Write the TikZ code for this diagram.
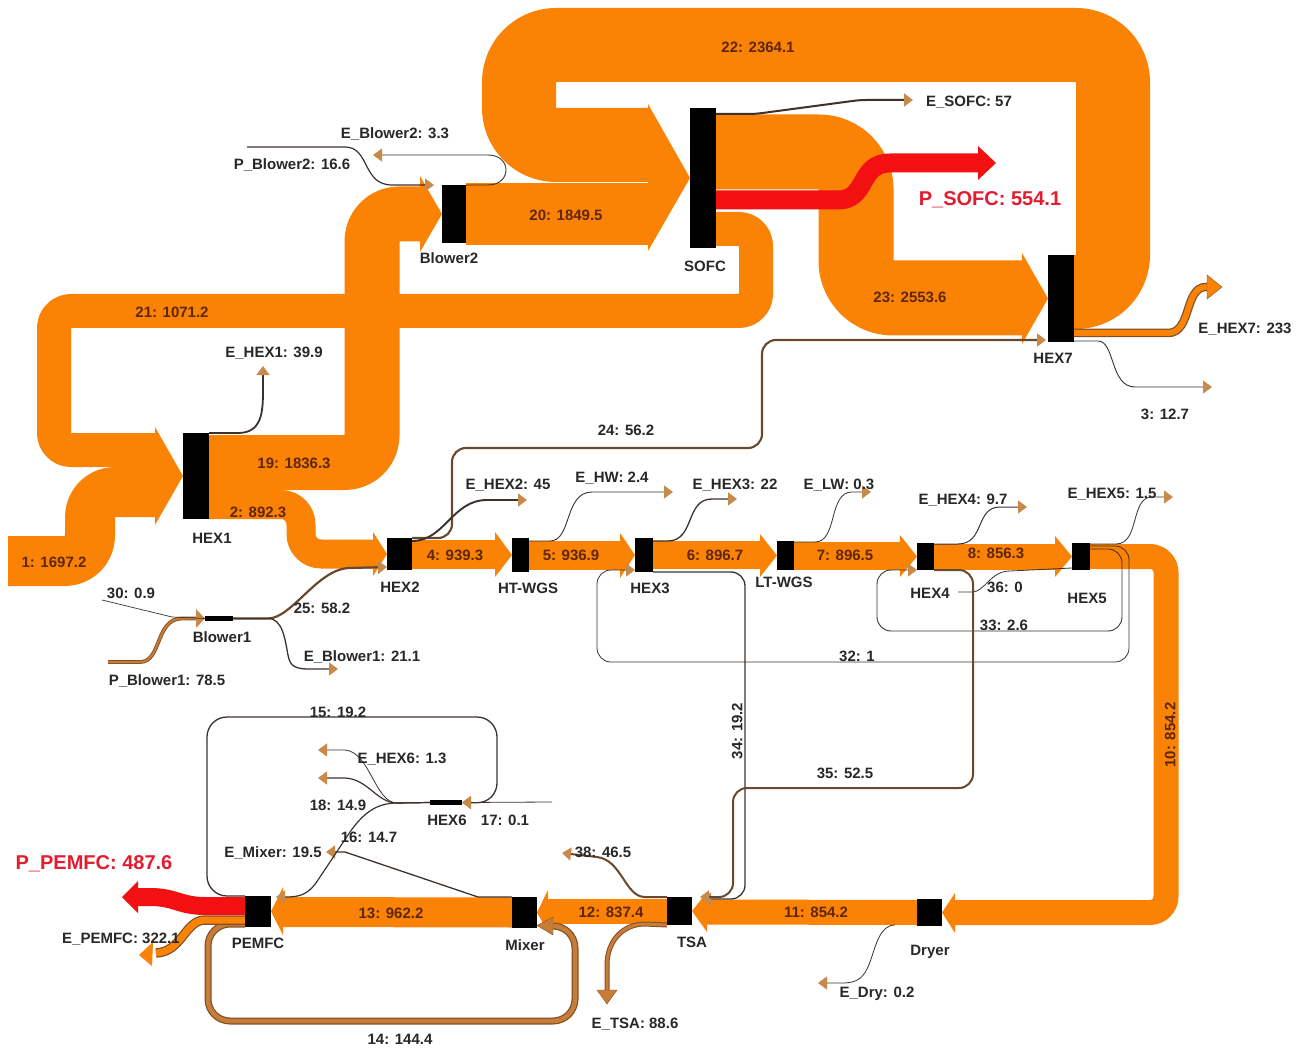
\documentclass[tikz,border=0pt]{standalone}
\usepackage{fontspec}
\setmainfont{Liberation Sans}
\usetikzlibrary{arrows.meta}
\pgfdeclarelayer{bg}
\pgfdeclarelayer{mid}
\pgfsetlayers{bg,mid,main}
\definecolor{sorange}{RGB}{250,130,5}
\definecolor{sred}{RGB}{242,16,16}
\definecolor{lblred}{RGB}{228,28,48}
\definecolor{fbrown}{RGB}{95,38,8}
\definecolor{lbrown}{RGB}{105,72,45}
\definecolor{ldark}{RGB}{60,50,45}
\definecolor{tipc}{RGB}{200,138,75}
\definecolor{bbrown}{RGB}{200,125,55}
\definecolor{bedge}{RGB}{130,80,40}
\definecolor{txt}{RGB}{40,40,40}
\begin{document}
\begin{tikzpicture}[x=1pt,y=-1pt,
 band/.style={draw=sorange,line cap=butt,line join=round},
 bar/.style={fill=black,inner sep=0pt,outer sep=0pt},
 flab/.style={font=\fontsize{15}{17}\selectfont\bfseries,text=fbrown,inner sep=0pt,text height=10.7pt,text depth=0pt},
 lab/.style={font=\fontsize{15}{17}\selectfont\bfseries,text=txt,inner sep=0pt,text height=10.7pt,text depth=0pt},
 rlab/.style={font=\fontsize{20}{23}\selectfont\bfseries,text=lblred,inner sep=0pt,text height=14.3pt,text depth=0pt},
 tline/.style={draw=ldark,line width=#1,-{Triangle[length=9pt,width=13pt,color=tipc]}},
 tline/.default=0.9pt,
 nline/.style={draw=ldark,line width=#1},
 nline/.default=0.9pt]
\useasboundingbox (0,0) rectangle (1306,1048);

% ---------- process nodes ----------
\node[bar,minimum width=26pt,minimum height=86pt] (hex1) at (196,476) {};
\node[bar,minimum width=24pt,minimum height=58pt] (blower2) at (454,214) {};
\node[bar,minimum width=26pt,minimum height=140pt] (sofc) at (703,178) {};
\node[bar,minimum width=26pt,minimum height=87pt] (hex7) at (1061,298.5) {};
\node[bar,minimum width=25pt,minimum height=32pt] (hex2) at (399.5,554) {};
\node[bar,minimum width=17pt,minimum height=34pt] (htwgs) at (520.5,555) {};
\node[bar,minimum width=18pt,minimum height=34pt] (hex3) at (644,555) {};
\node[bar,minimum width=17pt,minimum height=29pt] (ltwgs) at (785.5,555.5) {};
\node[bar,minimum width=17pt,minimum height=27pt] (hex4) at (925.5,556.5) {};
\node[bar,minimum width=18pt,minimum height=27pt] (hex5) at (1081,556.5) {};
\node[bar,minimum width=25pt,minimum height=27pt] (dryer) at (929.5,912.5) {};
\node[bar,minimum width=25pt,minimum height=28pt] (tsa) at (679.5,911) {};
\node[bar,minimum width=25pt,minimum height=31pt] (mixer) at (524.5,912.5) {};
\node[bar,minimum width=26pt,minimum height=31pt] (pemfc) at (258,911.5) {};
\node[bar,minimum width=28pt,minimum height=5pt] (blower1) at (219,618.5) {};
\node[bar,minimum width=32pt,minimum height=5pt] (hex6) at (446,802.5) {};

% ---------- free ends ----------
\coordinate (in1) at (8,561);
\coordinate (eBl2) at (373,155);
\coordinate (pBl2) at (247,147);
\coordinate (eSOFC) at (913,100);
\coordinate (pSOFC) at (996,163);
\coordinate (eHEX1) at (263,366);
\coordinate (eHEX2) at (527,500);
\coordinate (eHW) at (673,492);
\coordinate (eHEX3) at (737,499);
\coordinate (eLW) at (871,492);
\coordinate (eHEX4) at (1027,507);
\coordinate (eHEX5) at (1173,497);
\coordinate (o3) at (1212,387);
\coordinate (eHEX7) at (1222,287);
\coordinate (i30) at (102,600);
\coordinate (pBl1) at (108,662);
\coordinate (eBl1) at (338,669);
\coordinate (eMix) at (326,852);
\coordinate (i17) at (552,802);
\coordinate (eHEX6) at (318,750);
\coordinate (o18) at (318,778);
\coordinate (o38) at (562,853);
\coordinate (eTSA) at (607,1004);
\coordinate (eDry) at (818,983);
\coordinate (pPEM) at (122,897);
\coordinate (ePEM) at (139,955);
\coordinate (s36) at (958,592);

\begin{pgfonlayer}{bg}
\fill[white] (0,0) rectangle (1306,1048);
% 22
\draw[band,line width=74pt,rounded corners=37pt] ([yshift=6.5pt]hex7.east) -- (1113,292) -- (1113,45) -- (519,45) -- (519,145) -- (648,145);
% 20
\draw[band,line width=62pt] (blower2.east) -- (648,214);
\fill[sorange] (648,104) -- (sofc.west) -- (648,251) -- cycle;
% 23
\draw[band,line width=75pt,rounded corners=37pt] ([yshift=26pt]sofc.east) -- (856,152) -- (856,298) -- (1022,298);
\fill[sorange] (1022,253) -- (hex7.west) -- (1022,344) -- cycle;
% 21
\draw[band,line width=34pt,rounded corners=17pt] ([yshift=-51pt]sofc.east) -- (756,229) -- (756,311) -- (54,311) -- (54,450) -- (155,450);
% 1
\draw[band,line width=50pt,rounded corners=25pt] (in1) -- (90,561) -- (90,492) -- (155,492);
\fill[sorange] (155,427) -- (hex1.west) -- (155,525) -- cycle;
% 19
\draw[band,line width=55pt,rounded corners=27pt] ([yshift=13.5pt]hex1.east) -- (372,462.5) -- (372,214) -- (420,214);
\fill[sorange] (420,176) -- (blower2.west) -- (420,252) -- cycle;
% 2
\draw[band,line width=29pt,rounded corners=20pt] ([yshift=-28.5pt]hex1.east) -- (301,504.5) -- (301,554) -- (373,554);
\fill[sorange] (373,532) -- (hex2.west) -- (373,576) -- cycle;
% 4 - 8
\draw[band,line width=29pt] (hex2.east) -- (495,554);
\fill[sorange] (495,532) -- (htwgs.west) -- (495,577) -- cycle;
\draw[band,line width=29pt] (htwgs.east) -- (620,555);
\fill[sorange] (620,533) -- (hex3.west) -- (620,578) -- cycle;
\draw[band,line width=28pt] (hex3.east) -- (760,555);
\fill[sorange] (760,534) -- (ltwgs.west) -- (760,577) -- cycle;
\draw[band,line width=28pt] (ltwgs.east) -- (900,555.5);
\fill[sorange] (900,535) -- (hex4.west) -- (900,577) -- cycle;
\draw[band,line width=26pt] (hex4.east) -- (1055,556.5);
\fill[sorange] (1055,536) -- (hex5.west) -- (1055,577) -- cycle;
% 10
\draw[band,line width=25pt,rounded corners=16pt] (hex5.east) -- (1166,556.5) -- (1166,912.5) -- (955,912.5);
\fill[sorange] (955,893) -- (dryer.east) -- (955,933) -- cycle;
% 11
\draw[band,line width=25pt] (dryer.west) -- (707,912);
\fill[sorange] (707,892) -- (tsa.east) -- (707,932) -- cycle;
% 12
\draw[band,line width=25pt] (tsa.west) -- (548,911);
\fill[sorange] (548,890) -- (mixer.east) -- (548,932) -- cycle;
% 13
\draw[band,line width=30pt] (mixer.west) -- (283,912);
\fill[sorange] (283,887) -- (pemfc.east) -- (283,935) -- cycle;
% 14
\draw[draw=bedge,line width=7pt,rounded corners=22pt] ([yshift=3pt]pemfc.south west) -- (208,924) -- (208,1021) -- (575,1021) -- (575,926) -- (553,926);
\draw[draw=bbrown,line width=4.5pt,rounded corners=22pt] ([yshift=3pt]pemfc.south west) -- (208,924) -- (208,1021) -- (575,1021) -- (575,926) -- (553,926);
\fill[bbrown,draw=bedge] (553,917) -- ([yshift=-13pt]mixer.east) -- (553,935) -- cycle;
% E_TSA
\draw[draw=bedge,line width=5pt] (tsa.south west) -- (645,924) .. controls (622,924) and (607,942) .. (607,965) -- (607,990);
\draw[draw=bbrown,line width=3pt] (tsa.south west) -- (645,924) .. controls (622,924) and (607,942) .. (607,965) -- (607,990);
\fill[bbrown,draw=bedge] (597,990) -- (eTSA) -- (617,990) -- cycle;
% E_PEMFC
\draw[draw=bedge,line width=9.5pt] ([yshift=-8.5pt]pemfc.west) -- (205,920) .. controls (185,920) and (182,952) .. (156,953);
\draw[band,line width=7pt] ([yshift=-8.5pt]pemfc.west) -- (205,920) .. controls (185,920) and (182,952) .. (156,953);
\fill[sorange] (153,942) -- (ePEM) -- (152,966) -- cycle;
% P_PEMFC
\draw[draw=sred,line width=18pt] ([yshift=5.5pt]pemfc.west) -- (205,906) .. controls (180,906) and (175,897) .. (150,897) -- (138,897);
\fill[sred] (138,881) -- (pPEM) -- (138,913) -- cycle;
% P_SOFC
\draw[draw=sred,line width=19pt] ([yshift=-22pt]sofc.east) -- (838,200) .. controls (868,200) and (858,163) .. (890,163) -- (978,163);
\fill[sred] (978,146) -- (pSOFC) -- (978,180) -- cycle;
% E_HEX7
\draw[draw=bedge,line width=8.5pt] ([yshift=9pt]hex7.south east) -- (1168,333) .. controls (1192,333) and (1184,287) .. (1206,287) -- (1208,287);
\draw[band,line width=6pt] ([yshift=9pt]hex7.south east) -- (1168,333) .. controls (1192,333) and (1184,287) .. (1206,287) -- (1208,287);
\fill[sorange,draw=bedge] (1207,275) -- (eHEX7) -- (1207,299) -- cycle;
% P_Blower1
\draw[draw=bedge,line width=3.8pt] (pBl1) -- (140,662) .. controls (162,662) and (155,618.5) .. (182,618.5) -- (197,618.5);
\draw[draw=bbrown,line width=2pt] (pBl1) -- (140,662) .. controls (162,662) and (155,618.5) .. (182,618.5) -- (197,618.5);
\fill[tipc] (196,609) -- (blower1.west) -- (196,628) -- cycle;
\end{pgfonlayer}

\begin{pgfonlayer}{mid}
\draw[tline] (blower2.north east) -- (488,185) .. controls (512,185) and (512,155) .. (488,155) -- (eBl2);
\draw[tline=1.2pt] (pBl2) -- (345,147) .. controls (370,147) and (362,185) .. (392,185) -- ([xshift=-8pt]blower2.north west);
\draw[tline=2pt,rounded corners=6pt] ([yshift=64pt]sofc.east) -- (755,114) -- (860,100) -- (eSOFC);
\draw[tline=2.1pt,draw=lbrown,rounded corners=14pt] (hex2.north east) -- (452,538) -- (452,448) -- (762,448) -- (762,340) -- ([xshift=-2pt,yshift=2pt]hex7.south west);
\draw[tline=1.8pt] (hex1.north east) -- (238,433) .. controls (262,433) and (263,412) .. (263,390) -- (eHEX1);
\draw[tline=1.9pt] ([yshift=-3pt]hex2.north east) .. controls (445,541) and (452,500) .. (487,500) -- (eHEX2);
\draw[tline] ([yshift=-3pt]htwgs.north east) -- (550,541) .. controls (572,541) and (564,492) .. (592,492) -- (eHW);
\draw[tline=1.3pt] ([yshift=-3pt]hex3.north east) -- (668,541) .. controls (695,541) and (685,499) .. (712,499) -- (eHEX3);
\draw[tline=0.8pt] ([yshift=-1pt]ltwgs.north east) -- (815,542) .. controls (838,542) and (828,492) .. (852,492) -- (eLW);
\draw[tline=1pt] ([yshift=-1pt]hex4.north east) -- (958,544) .. controls (985,544) and (975,507) .. (1000,507) -- (eHEX4);
\draw[tline=0.8pt] ([yshift=-1pt]hex5.north east) -- (1116,544) .. controls (1140,544) and (1130,497) .. (1152,497) -- (eHEX5);
\draw[tline=0.8pt,rounded corners=14pt] ([yshift=-3pt]hex5.north east) -- (1129,546) -- (1129,662) -- (597,662) -- (597,570) -- ([yshift=2pt]hex3.south west);
\draw[tline=0.9pt,rounded corners=14pt] ([yshift=-6pt]hex5.north east) -- (1122,549) -- (1122,631) -- (877,631) -- (877,570) -- (hex4.south west);
\draw[nline=0.8pt] (s36) -- (972,592) .. controls (985,592) and (990,571) .. (1010,571) -- ([yshift=2pt]hex5.south west);
\draw[tline=1.3pt,rounded corners=14pt] (hex3.south east) -- (745,572) -- (745,899) -- ([xshift=10pt,yshift=-2pt]tsa.north east);
\draw[tline=2pt,draw=lbrown,rounded corners=14pt] (hex4.south east) -- (973,570) -- (973,788) -- (733,788) -- (733,897) -- ([xshift=8pt]tsa.north east);
\draw[tline=2pt,draw=lbrown] (tsa.north west) -- (645,897) .. controls (625,897) and (622,860) .. (597,857) -- (o38);
\draw[tline=0.8pt] ([xshift=-22pt,yshift=1pt]dryer.south west) .. controls (880,925) and (876,945) .. (870,962) .. controls (864,978) and (858,983) .. (842,983) -- (eDry);
\draw[tline=1.3pt] (mixer.north west) -- (478,897) -- (345,852) -- (eMix);
\draw[tline=1.2pt] (hex6.west) -- (397,803) .. controls (375,803) and (362,815) .. (350,832) -- (318,880) .. controls (308,895) and (300,897) .. ([xshift=5pt,yshift=-1pt]pemfc.north east);
\draw[tline=1.3pt,rounded corners=20pt] (pemfc.north west) -- (207,896) -- (207,717) -- (497,717) -- (497,803) -- (hex6.east);
\draw[tline=0.8pt] (i17) -- (hex6.east);
\draw[tline=0.8pt] (hex6.west) -- (397,803) .. controls (375,803) and (370,752) .. (345,750) -- (eHEX6);
\draw[tline=1.2pt] (hex6.west) -- (397,803) .. controls (377,803) and (368,779) .. (345,778) -- (o18);
\draw[nline=0.7pt] (i30) -- (172,617) -- (blower1.west);
\draw[tline=2.2pt,draw=lbrown] (blower1.east) -- (268,618.5) .. controls (292,618.5) and (318,568) .. (350,568) -- ([yshift=-13pt]hex2.west);
\draw[tline=1.3pt] (blower1.east) -- (268,618.5) .. controls (283,618.5) and (285,640) .. (288,655) .. controls (290,667) and (296,669) .. (310,669) -- (eBl1);
\draw[tline=0.9pt] ([yshift=1pt]hex7.south east) -- (1098,341) .. controls (1115,341) and (1110,387) .. (1135,387) -- (o3);
\end{pgfonlayer}

% ---------- flow labels ----------
\node[flab] (l22) at (758,47) {22: 2364.1};
\node[flab] (l20) at (566,215) {20: 1849.5};
\node[flab] (l21) at (172,312) {21: 1071.2};
\node[flab] (l23) at (910,297) {23: 2553.6};
\node[flab] (l19) at (294,463) {19: 1836.3};
\node[flab] (l2) at (258,512) {2: 892.3};
\node[flab] (l1) at (54,562) {1: 1697.2};
\node[flab] (l4) at (455,555) {4: 939.3};
\node[flab] (l5) at (571,555) {5: 936.9};
\node[flab] (l6) at (715,555) {6: 896.7};
\node[flab] (l7) at (845,555) {7: 896.5};
\node[flab] (l8) at (996,553) {8: 856.3};
\node[flab,rotate=90] (l10) at (1170,735) {10: 854.2};
\node[flab] (l11) at (816,912) {11: 854.2};
\node[flab] (l12) at (611,912) {12: 837.4};
\node[flab] (l13) at (391,913) {13: 962.2};
\node[lab] (l14) at (400,1039) {14: 144.4};
% ---------- node names ----------
\node[lab] (nBlower2) at (449,258) {Blower2};
\node[lab] (nSOFC) at (705,266) {SOFC};
\node[lab] (nHEX7) at (1053,358) {HEX7};
\node[lab] (nHEX1) at (212,538) {HEX1};
\node[lab] (nHEX2) at (400,587) {HEX2};
\node[lab] (nHT) at (528,588) {HT-WGS};
\node[lab] (nHEX3) at (650,588) {HEX3};
\node[lab] (nLT) at (784,582) {LT-WGS};
\node[lab] (nHEX4) at (930,593) {HEX4};
\node[lab] (nHEX5) at (1087,598) {HEX5};
\node[lab] (nBlower1) at (222,637) {Blower1};
\node[lab] (nHEX6) at (447,820) {HEX6};
\node[lab] (nPEMFC) at (258,943) {PEMFC};
\node[lab] (nMixer) at (525,945) {Mixer};
\node[lab] (nTSA) at (692,942) {TSA};
\node[lab] (nDryer) at (930,950) {Dryer};
% ---------- minor flow labels ----------
\node[lab] (tEBl2) at (395,133) {E\_Blower2: 3.3};
\node[lab] (tPBl2) at (292,164) {P\_Blower2: 16.6};
\node[lab] (tESOFC) at (969,101) {E\_SOFC: 57};
\node[lab] (tEHEX7) at (1245,328) {E\_HEX7: 233};
\node[lab] (t3) at (1165,414) {3: 12.7};
\node[lab] (tEHEX1) at (274,352) {E\_HEX1: 39.9};
\node[lab] (t24) at (626,430) {24: 56.2};
\node[lab] (tEHEX2) at (508,484) {E\_HEX2: 45};
\node[lab] (tEHW) at (612,477) {E\_HW: 2.4};
\node[lab] (tEHEX3) at (735,484) {E\_HEX3: 22};
\node[lab] (tELW) at (839,484) {E\_LW: 0.3};
\node[lab] (tEHEX4) at (963,499) {E\_HEX4: 9.7};
\node[lab] (tEHEX5) at (1112,493) {E\_HEX5: 1.5};
\node[lab] (t36) at (1005,587) {36: 0};
\node[lab] (t33) at (1004,625) {33: 2.6};
\node[lab] (t32) at (857,656) {32: 1};
\node[lab] (t30) at (131,593) {30: 0.9};
\node[lab] (t25) at (322,608) {25: 58.2};
\node[lab] (tEBl1) at (362,656) {E\_Blower1: 21.1};
\node[lab] (tPBl1) at (167,680) {P\_Blower1: 78.5};
\node[lab,rotate=90] (t34) at (737,731) {34: 19.2};
\node[lab] (t35) at (845,773) {35: 52.5};
\node[lab] (t15) at (338,712) {15: 19.2};
\node[lab] (tEHEX6) at (402,758) {E\_HEX6: 1.3};
\node[lab] (t18) at (338,805) {18: 14.9};
\node[lab] (t17) at (505,820) {17: 0.1};
\node[lab] (t16) at (369,837) {16: 14.7};
\node[lab] (tEMix) at (273,852) {E\_Mixer: 19.5};
\node[lab] (tEPEM) at (121,938) {E\_PEMFC: 322.1};
\node[lab] (t38) at (603,852) {38: 46.5};
\node[lab] (tETSA) at (635,1023) {E\_TSA: 88.6};
\node[lab] (tEDry) at (877,992) {E\_Dry: 0.2};
\node[rlab] (tPSOFC) at (990,198) {P\_SOFC: 554.1};
\node[rlab] (tPPEM) at (94,862) {P\_PEMFC: 487.6};
\end{tikzpicture}
\end{document}
